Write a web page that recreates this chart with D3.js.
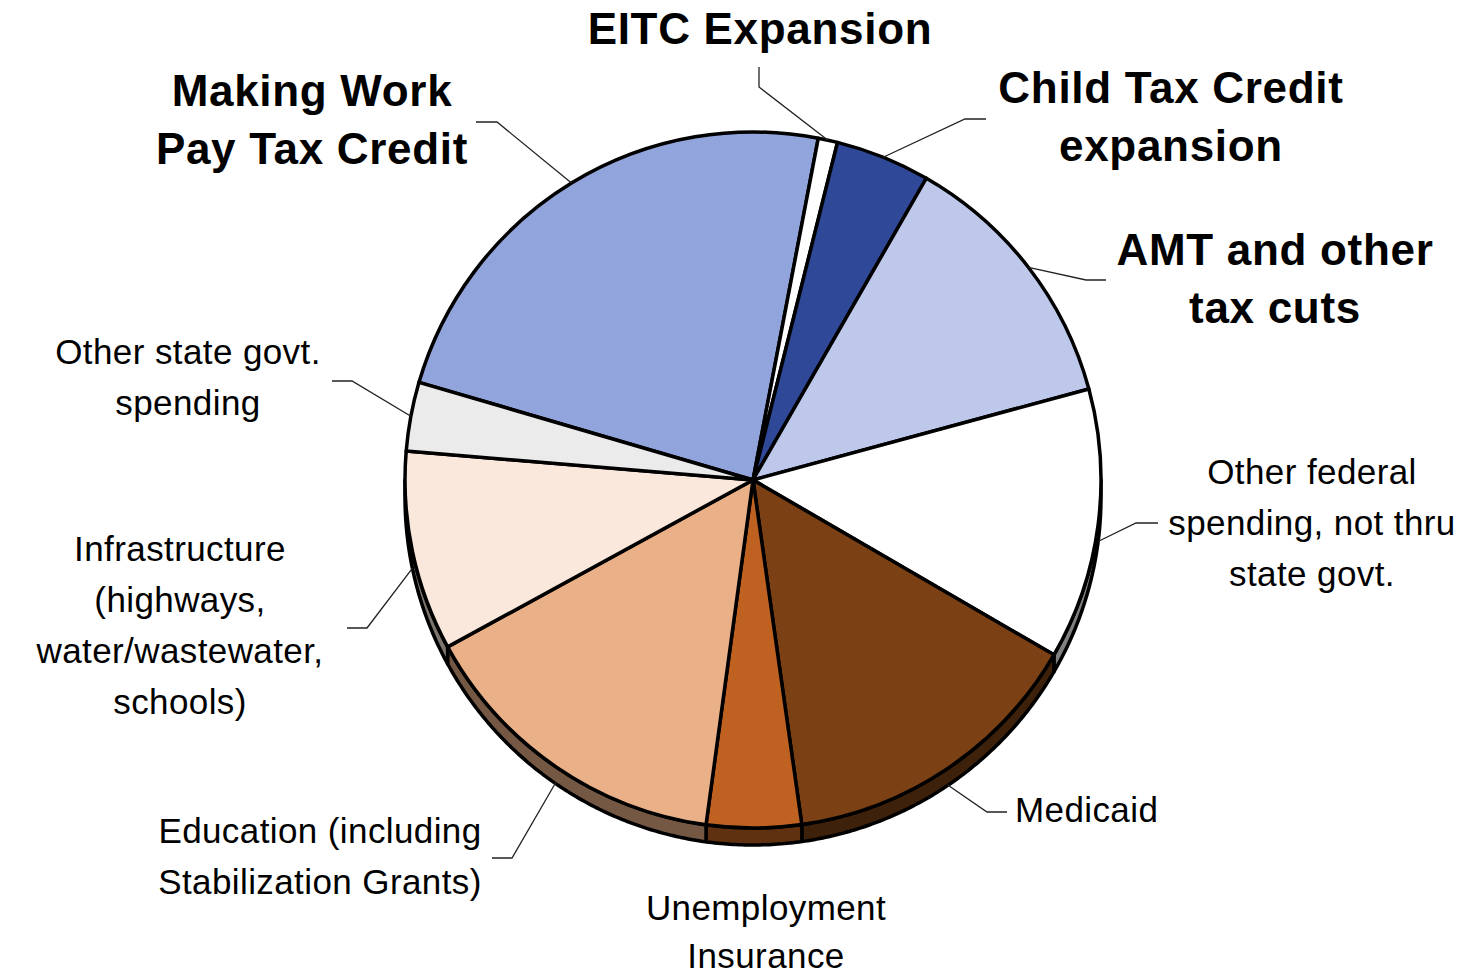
<!DOCTYPE html>
<html>
<head>
<meta charset="utf-8">
<script src="https://cdn.jsdelivr.net/npm/d3@7"></script>
<style>
  html, body { margin: 0; padding: 0; background: #fff; }
  svg { display: block; }
</style>
</head>
<body>
<svg id="chart" width="1469" height="976"></svg>
<script>
// ---- Data (percent shares) ----
const categories = [
  "Making Work Pay Tax Credit",
  "EITC Expansion",
  "Child Tax Credit expansion",
  "AMT and other tax cuts",
  "Other federal spending, not thru state govt.",
  "Medicaid",
  "Unemployment Insurance",
  "Education (including Stabilization Grants)",
  "Infrastructure (highways, water/wastewater, schools)",
  "Other state govt. spending"
];
const shares = [23.5, 0.9, 4.4, 12.5, 12.6, 14.4, 4.4, 14.9, 9.3, 3.2];
const colors = ["#92a4dc", "#ffffff", "#2f4898", "#bdc8eb", "#ffffff",
                "#7b4114", "#bf6120", "#eab088", "#fae8dc", "#ebebeb"];
const labelLines = [
  ["Making Work", "Pay Tax Credit"],
  ["EITC Expansion"],
  ["Child Tax Credit", "expansion"],
  ["AMT and other", "tax cuts"],
  ["Other federal", "spending, not thru", "state govt."],
  ["Medicaid"],
  ["Unemployment", "Insurance"],
  ["Education (including", "Stabilization Grants)"],
  ["Infrastructure", "(highways,", "water/wastewater,", "schools)"],
  ["Other state govt.", "spending"]
];
const labelBold = [true, true, true, true, false, false, false, false, false, false];

// ---- Layout ----
const cx = 753, cy = 480, R = 348, depth = 17;
const deg = Math.PI / 180;
const startA = -73.7 * deg;

// label placement: [x, firstBaseline, anchor, lineGap]
const labelPos = [
  [312, 106, "middle", 58],
  [760, 44, "middle", 58],
  [1171, 103, "middle", 58],
  [1275, 265, "middle", 58],
  [1312, 484, "middle", 51],
  [1015, 822, "start", 51],
  [766, 920, "middle", 48],
  [320, 843, "middle", 51],
  [180, 561, "middle", 51],
  [188, 364, "middle", 51]
];
// leader: [startX, startY, elbowX, elbowY] (null = no leader)
const leaders = [
  [476, 122, 497, 122],
  [759, 67, 759, 87],
  [986, 119, 965, 119],
  [1106, 280, 1086, 280],
  [1158, 523, 1136, 523],
  [1007, 812, 987, 812],
  null,
  [492, 858, 512, 858],
  [347, 628, 367, 628],
  [332, 381, 352, 381]
];

const svg = d3.select("#chart");
const g = svg.append("g").attr("transform", `translate(${cx},${cy})`);

const pie = d3.pie().sort(null).value(d => d).startAngle(startA).endAngle(startA + 2 * Math.PI);
const arcs = pie(shares);
const arc = d3.arc().innerRadius(0).outerRadius(R);

const pt = (a, r) => [r * Math.sin(a), -r * Math.cos(a)];

// ---- side (depth) faces ----
const lo = Math.PI / 2, hi = 3 * Math.PI / 2;
const norm = a => { let x = a % (2 * Math.PI); if (x < 0) x += 2 * Math.PI; return x; };
const line = d3.line();
arcs.forEach((d, i) => {
  let a0 = norm(d.startAngle), a1 = a0 + (d.endAngle - d.startAngle);
  const ranges = [[lo, hi], [lo + 2 * Math.PI, hi + 2 * Math.PI]];
  ranges.forEach(([l, h]) => {
    const s = Math.max(a0, l), e = Math.min(a1, h);
    if (e <= s) return;
    const n = Math.max(2, Math.ceil((e - s) / (0.5 * deg)));
    const top = d3.range(n + 1).map(k => pt(s + (e - s) * k / n, R));
    const bot = top.slice().reverse().map(([x, y]) => [x, y + depth]);
    const c = d3.color(colors[i]);
    const side = d3.rgb(c.r * 0.5, c.g * 0.5, c.b * 0.5);
    g.append("path")
      .attr("d", line(top.concat(bot)) + "Z")
      .attr("fill", side)
      .attr("stroke", "#000")
      .attr("stroke-width", 3.5)
      .attr("stroke-linejoin", "round");
  });
});

// ---- top faces ----
g.selectAll("path.slice")
  .data(arcs)
  .join("path")
  .attr("class", "slice")
  .attr("d", arc)
  .attr("fill", (d, i) => colors[i])
  .attr("stroke", "#000")
  .attr("stroke-width", 3.5)
  .attr("stroke-linejoin", "round");

// ---- leader lines ----
arcs.forEach((d, i) => {
  const L = leaders[i];
  if (!L) return;
  const mid = (d.startAngle + d.endAngle) / 2;
  let [x, y] = pt(mid, R);
  if (y > 0) y += depth * 0.95;
  svg.append("path")
    .attr("d", d3.line()([[L[0], L[1]], [L[2], L[3]], [cx + x, cy + y]]))
    .attr("fill", "none")
    .attr("stroke", "#222")
    .attr("stroke-width", 1.3);
});

// ---- labels ----
labelLines.forEach((lines, i) => {
  const [x, y, anchor, gap] = labelPos[i];
  const bold = labelBold[i];
  const t = svg.append("text")
    .attr("x", x)
    .attr("y", y)
    .attr("text-anchor", anchor)
    .attr("font-family", "Liberation Sans, Arial, sans-serif")
    .attr("font-size", bold ? 44 : 35)
    .attr("font-weight", bold ? "bold" : "normal")
    .attr("letter-spacing", bold ? 0.7 : 0.4)
    .attr("fill", "#000");
  lines.forEach((s, k) => {
    t.append("tspan").attr("x", x).attr("dy", k === 0 ? 0 : gap).text(s);
  });
});
</script>
</body>
</html>
